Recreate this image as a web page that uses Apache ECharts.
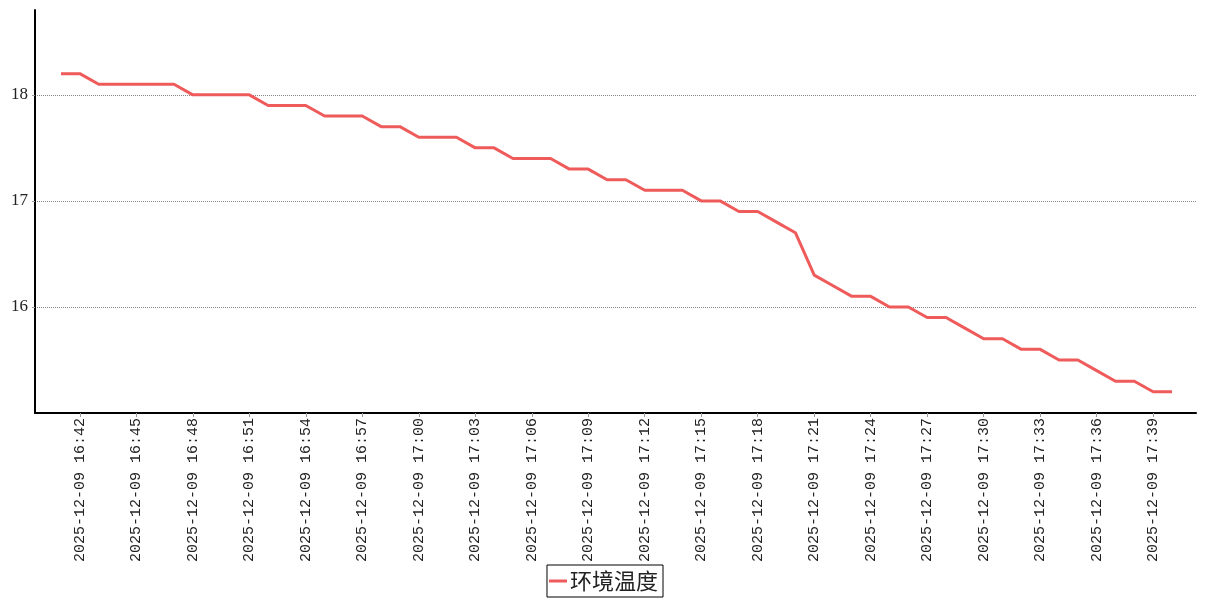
<!DOCTYPE html>
<html>
<head>
<meta charset="utf-8">
<title>环境温度</title>
<script src="https://cdn.jsdelivr.net/npm/echarts@6/dist/echarts.min.js"></script>
<style>
  html, body { margin: 0; padding: 0; background: #fff; }
  #chart { width: 1207px; height: 600px; }
</style>
</head>
<body>
<div id="chart"></div>
<script>
// 每分钟一个点，16:41 ~ 17:40
var day = '2025-12-09';
var times = [
  '16:41', '16:42', '16:43', '16:44', '16:45', '16:46', '16:47', '16:48', '16:49', '16:50',
  '16:51', '16:52', '16:53', '16:54', '16:55', '16:56', '16:57', '16:58', '16:59', '17:00',
  '17:01', '17:02', '17:03', '17:04', '17:05', '17:06', '17:07', '17:08', '17:09', '17:10',
  '17:11', '17:12', '17:13', '17:14', '17:15', '17:16', '17:17', '17:18', '17:19', '17:20',
  '17:21', '17:22', '17:23', '17:24', '17:25', '17:26', '17:27', '17:28', '17:29', '17:30',
  '17:31', '17:32', '17:33', '17:34', '17:35', '17:36', '17:37', '17:38', '17:39', '17:40'
];
var temperature = [
  18.2, 18.2, 18.1, 18.1, 18.1, 18.1, 18.1, 18.0, 18.0, 18.0,
  18.0, 17.9, 17.9, 17.9, 17.8, 17.8, 17.8, 17.7, 17.7, 17.6,
  17.6, 17.6, 17.5, 17.5, 17.4, 17.4, 17.4, 17.3, 17.3, 17.2,
  17.2, 17.1, 17.1, 17.1, 17.0, 17.0, 16.9, 16.9, 16.8, 16.7,
  16.3, 16.2, 16.1, 16.1, 16.0, 16.0, 15.9, 15.9, 15.8, 15.7,
  15.7, 15.6, 15.6, 15.5, 15.5, 15.4, 15.3, 15.3, 15.2, 15.2
];
var seriesName = '环境温度';
var yMin = 15, yMax = 18.8;

var categories = times.map(function (t) { return day + ' ' + t; });

// 每3分钟显示一个标签 (16:42, 16:45 ...)
function everyThird(idx) { return idx % 3 === 1; }

var chart = echarts.init(document.getElementById('chart'));
chart.setOption({
  animation: false,
  backgroundColor: '#fff',
  grid: [
    { left: 35, right: 11, top: 10, height: 403 },
    { left: 61, right: 35, top: 10, height: 403 }
  ],
  legend: {
    data: [seriesName],
    left: 'center',
    top: 565,
    borderColor: '#000',
    borderWidth: 1,
    borderRadius: 0,
    padding: [5, 5, 5, 2],
    icon: 'rect',
    itemWidth: 18,
    itemHeight: 3,
    itemGap: 4,
    textStyle: {
      fontFamily: 'Noto Sans CJK SC',
      fontSize: 22,
      color: '#222',
      padding: [0, 0, 0, -2]
    }
  },
  xAxis: [
    {
      type: 'value',
      gridIndex: 0,
      min: 0,
      max: 1,
      axisLine: { show: true, onZero: false, lineStyle: { color: '#000', width: 2 } },
      axisTick: { show: false },
      axisLabel: { show: false },
      splitLine: { show: false }
    },
    {
      type: 'category',
      gridIndex: 1,
      data: categories,
      boundaryGap: false,
      axisLine: { show: false },
      axisTick: {
        show: true,
        interval: everyThird,
        length: 4,
        lineStyle: { color: '#999' }
      },
      axisLabel: {
        interval: everyThird,
        rotate: 90,
        margin: 5,
        fontFamily: 'Liberation Mono',
        fontSize: 15,
        color: '#222'
      },
      splitLine: { show: false }
    }
  ],
  yAxis: [
    {
      type: 'value',
      gridIndex: 0,
      min: yMin,
      max: yMax,
      interval: 1,
      axisLine: { show: true, lineStyle: { color: '#000', width: 2 } },
      axisTick: { show: true, length: 3, lineStyle: { color: '#999' } },
      axisLabel: {
        showMinLabel: false,
        showMaxLabel: false,
        margin: 7,
        fontFamily: 'Liberation Serif',
        fontSize: 17,
        color: '#222'
      },
      splitLine: {
        show: true,
        showMinLine: false,
        showMaxLine: false,
        lineStyle: { color: '#888', type: 'dotted', width: 1 }
      }
    },
    {
      type: 'value',
      gridIndex: 1,
      min: yMin,
      max: yMax,
      show: false,
      splitLine: { show: false }
    }
  ],
  series: [
    {
      name: seriesName,
      type: 'line',
      xAxisIndex: 1,
      yAxisIndex: 1,
      data: temperature,
      symbol: 'none',
      lineStyle: { color: '#ef5b5b', width: 3 },
      itemStyle: { color: '#ef5b5b' }
    }
  ]
});
</script>
</body>
</html>
